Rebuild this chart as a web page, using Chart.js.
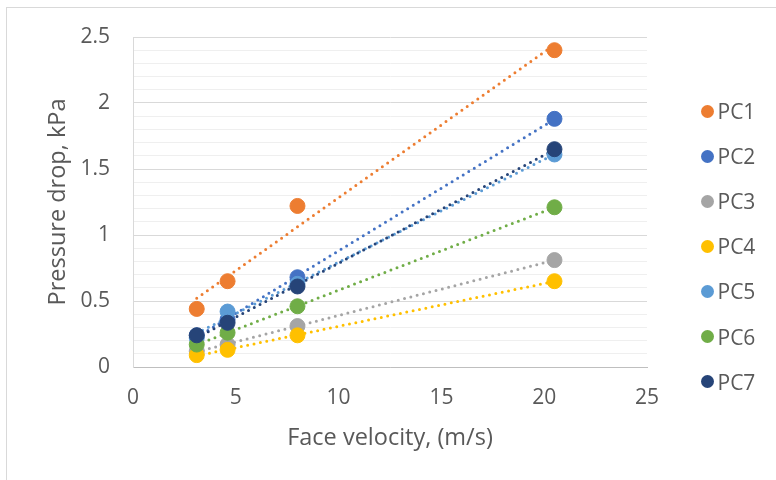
<!DOCTYPE html>
<html>
<head>
<meta charset="utf-8">
<script src="https://cdn.jsdelivr.net/npm/chart.js@4.4.1/dist/chart.umd.min.js"></script>
<style>
  html, body { margin:0; padding:0; background:#fff; }
  #wrap  { position:relative; width:776px; height:480px; overflow:hidden; font-family:'Open Sans', sans-serif; }
  #frame { position:absolute; left:6px; top:7px; width:800px; height:500px;
           border-top:1px solid #d9d9d9; border-left:1px solid #d9d9d9; }
  #chart { position:absolute; left:0; top:0; }
  .lg-item { position:absolute; left:700.5px; height:30px; display:flex; align-items:center; gap:4px;
             font-size:21px; color:#595959; }
  .lg-dot  { width:13px; height:13px; border-radius:50%; }
</style>
</head>
<body>
<div id="wrap">
  <div id="frame"></div>
  <canvas id="chart" width="776" height="480"></canvas>
  <div id="legend"></div>
</div>
<script>
// ── DATA ────────────────────────────────────────────────
const VELOCITY = [3.1, 4.6, 8.0, 20.5];          // face velocity, m/s
const PC1 = [0.44, 0.65, 1.22, 2.40];            // pressure drop, kPa
const PC2 = [0.24, 0.36, 0.68, 1.88];
const PC3 = [0.12, 0.17, 0.31, 0.81];
const PC4 = [0.09, 0.13, 0.24, 0.65];
const PC5 = [0.22, 0.42, 0.63, 1.61];
const PC6 = [0.17, 0.26, 0.46, 1.21];
const PC7 = [0.24, 0.335, 0.61, 1.65];

const X_TICKS = [0, 5, 10, 15, 20, 25];
const Y_TICKS = [0, 0.5, 1, 1.5, 2, 2.5];

const SERIES = [
  { name:'PC1', values:PC1, color:'#ED7D31' },
  { name:'PC2', values:PC2, color:'#4472C4' },
  { name:'PC3', values:PC3, color:'#A5A5A5' },
  { name:'PC4', values:PC4, color:'#FFC000' },
  { name:'PC5', values:PC5, color:'#5B9BD5' },
  { name:'PC6', values:PC6, color:'#70AD47' },
  { name:'PC7', values:PC7, color:'#264478' },
];

const TEXT = '#595959';
const FONT = 'Open Sans';

// ── LINEAR TRENDLINE (least squares) ────────────────────
const linearFit = (xs, ys) => {
  const n  = xs.length;
  const mx = xs.reduce((a, b) => a + b, 0) / n;
  const my = ys.reduce((a, b) => a + b, 0) / n;
  let sxy = 0, sxx = 0;
  xs.forEach((x, i) => { sxy += (x - mx) * (ys[i] - my); sxx += (x - mx) ** 2; });
  const slope = sxy / sxx;
  return x => my + slope * (x - mx);
};

const isMajor = v => Y_TICKS.some(t => Math.abs(t - v) < 1e-6);

// ── DATASETS ────────────────────────────────────────────
const xMin = Math.min(...VELOCITY);
const xMax = Math.max(...VELOCITY);
const datasets = [];

SERIES.forEach((s, i) => {
  datasets.push({
    label: s.name,
    data: VELOCITY.map((x, j) => ({ x, y: s.values[j] })),
    backgroundColor: s.color,
    borderColor: s.color,
    borderWidth: 1,
    pointRadius: 7.5,
    pointHoverRadius: 7.5,
    order: 20 - i,
  });
  const fit = linearFit(VELOCITY, s.values);
  datasets.push({
    label: s.name + ' trend',
    data: [{ x: xMin, y: fit(xMin) }, { x: xMax, y: fit(xMax) }],
    showLine: true,
    borderColor: s.color,
    borderWidth: 3,
    borderDash: [0, 6.5],
    borderCapStyle: 'round',
    pointRadius: 0,
    pointHoverRadius: 0,
    fill: false,
    order: 40 - i,
  });
});

// ── CHART ───────────────────────────────────────────────
new Chart(document.getElementById('chart'), {
  type: 'scatter',
  data: { datasets },
  options: {
    responsive: false,
    animation: false,
    devicePixelRatio: 1,
    layout: { padding: { left:30, right:129, top:37, bottom:20 } },
    plugins: { legend: { display:false }, tooltip: { enabled:false } },
    scales: {
      x: {
        type: 'linear',
        min: X_TICKS[0], max: X_TICKS[X_TICKS.length - 1],
        afterFit: s => { s.height = 93; },
        grid: { display:false, drawTicks:false },
        border: { color:'#bfbfbf', width:1 },
        ticks: { stepSize:5, padding:18, color:TEXT, font:{ family:FONT, size:21 } },
        title: { display:true, text:'Face velocity, (m/s)', color:TEXT,
                 font:{ family:FONT, size:23.5 }, padding:{ top:0, bottom:8 } },
      },
      y: {
        min: Y_TICKS[0], max: Y_TICKS[Y_TICKS.length - 1],
        afterFit: s => { s.width = 103; },
        grid: {
          drawTicks: false,
          lineWidth: 1,
          color: ctx => ctx.tick && isMajor(ctx.tick.value) ? '#d9d9d9' : '#efefef',
        },
        border: { color:'#d9d9d9', width:1 },
        ticks: {
          stepSize: 0.1, autoSkip: false, padding: 23, color: TEXT,
          font: { family:FONT, size:21 },
          callback: v => isMajor(v) ? String(+v.toFixed(1)) : '',
        },
        title: { display:true, text:'Pressure drop, kPa', color:TEXT,
                 font:{ family:FONT, size:23.5 }, padding:{ top:14, bottom:0 } },
      },
    },
  },
});

// ── LEGEND ──────────────────────────────────────────────
document.getElementById('legend').innerHTML = SERIES.map((s, i) => `
  <div class="lg-item" style="top:${96 + i * 45.1}px">
    <span class="lg-dot" style="background:${s.color}"></span><span>${s.name}</span>
  </div>`).join('');
</script>
</body>
</html>
